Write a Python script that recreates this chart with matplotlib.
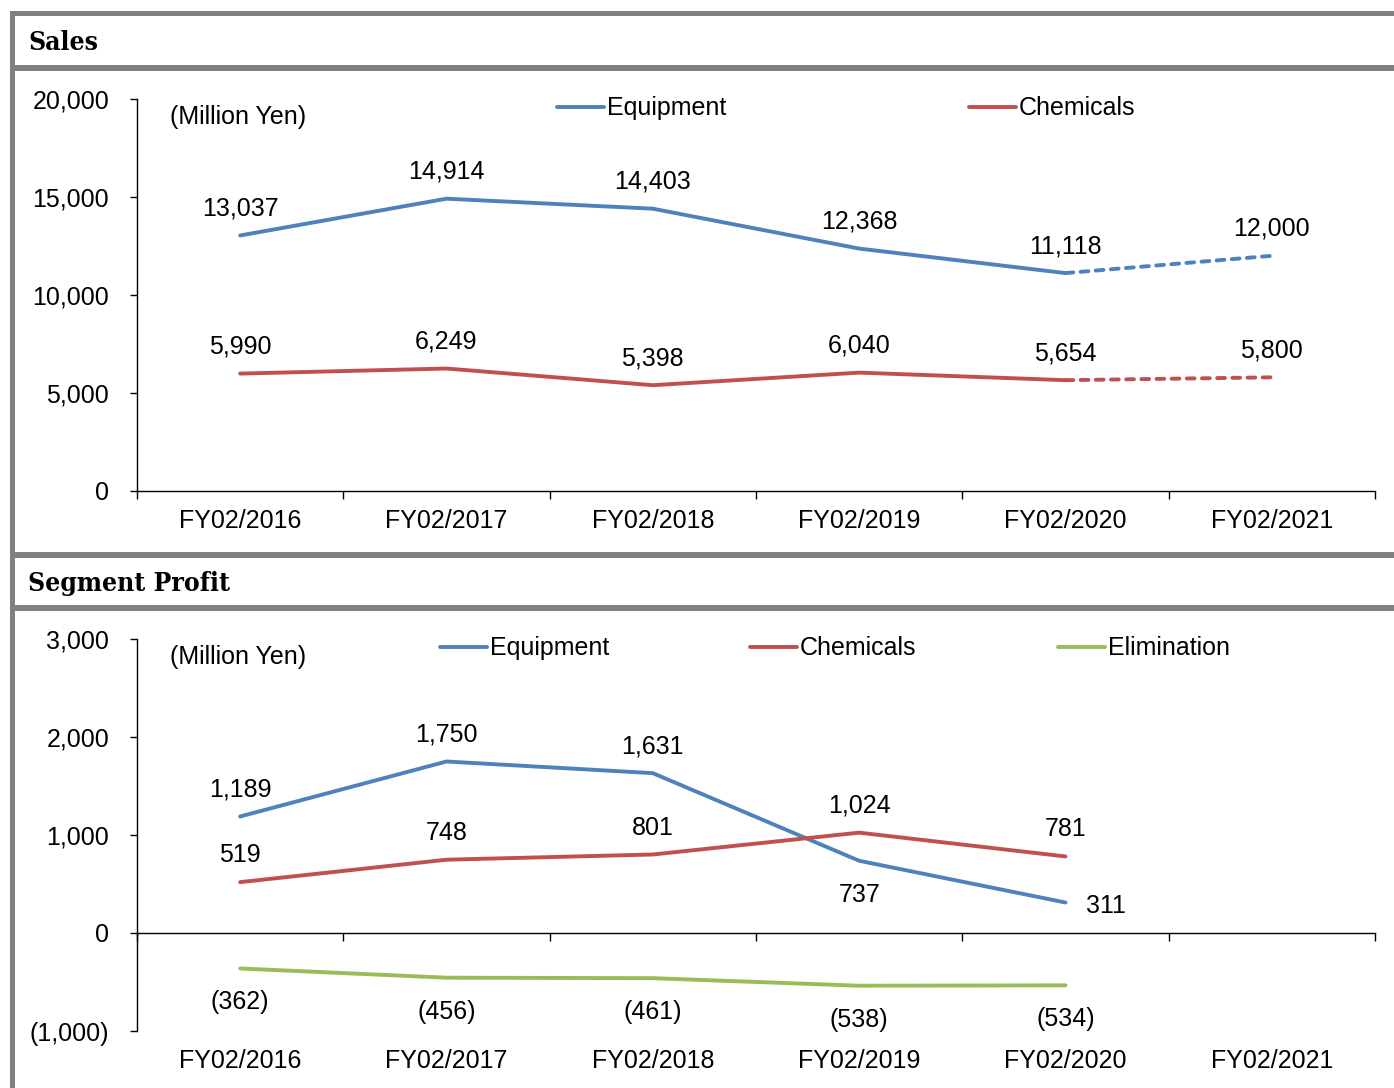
import matplotlib.pyplot as plt
from matplotlib.patches import Rectangle
import numpy as np

plt.rcParams['font.family'] = ['Liberation Sans', 'DejaVu Sans']

years = ['FY02/2016', 'FY02/2017', 'FY02/2018', 'FY02/2019', 'FY02/2020', 'FY02/2021']

sales_equipment = [13037, 14914, 14403, 12368, 11118, 12000]
sales_chemicals = [5990, 6249, 5398, 6040, 5654, 5800]
sales_ticks = [0, 5000, 10000, 15000, 20000]

profit_equipment = [1189, 1750, 1631, 737, 311]
profit_chemicals = [519, 748, 801, 1024, 781]
profit_elimination = [-362, -456, -461, -538, -534]
profit_ticks = [-1000, 0, 1000, 2000, 3000]

BLUE = '#4F81BD'
RED = '#C0504D'
GREEN = '#9BBB59'
GRAY = '#808080'
FS = 18

W, H = 1394, 1088
fig = plt.figure(figsize=(W / 100, H / 100), dpi=100)


def px_box(x0, y0, x1, y1):
    # pixel box (top-left origin) -> figure fraction rect
    return [x0 / W, 1 - y1 / H, (x1 - x0) / W, (y1 - y0) / H]


def bar(x0, y0, x1, y1):
    l, b, w, h = px_box(x0, y0, x1, y1)
    fig.add_artist(Rectangle((l, b), w, h, transform=fig.transFigure,
                             facecolor=GRAY, edgecolor='none'))


# frame
bar(10, 11, W, 16)
bar(10, 11, 15, H)
bar(15, 65, W, 71)
bar(15, 552, W, 558)
bar(15, 605, W, 611)

head = dict(family='DejaVu Serif', fontsize=19, fontweight='bold',
            fontstretch='condensed', va='center', ha='left')
fig.text(28 / W, 1 - 43 / H, 'Sales', **head)
fig.text(28 / W, 1 - 583 / H, 'Segment Profit', **head)


def fmt(v):
    return f'({abs(v):,})' if v < 0 else f'{v:,}'


def base_axes(rect, ticks, lo, hi):
    ax = fig.add_axes(rect)
    ax.set_xlim(-0.5, len(years) - 0.5)
    ax.set_ylim(lo, hi)
    for s in ['top', 'right']:
        ax.spines[s].set_visible(False)
    ax.spines['left'].set_linewidth(1.0)
    ax.spines['bottom'].set_linewidth(1.0)
    ax.set_yticks(ticks)
    ax.set_yticklabels([fmt(t) for t in ticks])
    ax.tick_params(axis='y', direction='out', length=5, width=1.0,
                   labelsize=FS, pad=15)
    ax.set_xticks(np.arange(len(years)))
    ax.set_xticklabels(years)
    ax.set_xticks(np.arange(len(years) + 1) - 0.5, minor=True)
    ax.tick_params(axis='x', which='major', length=0, labelsize=FS, pad=13)
    ax.tick_params(axis='x', which='minor', direction='out', length=6,
                   width=1.0)
    ax.text(0.027, 0.955, '(Million Yen)', transform=ax.transAxes,
            fontsize=FS, va='center', ha='left')
    return ax


def label_points(ax, xs, vals, dx=0, dy=27):
    for x, v in zip(xs, vals):
        ax.annotate(fmt(v), (x, v), xytext=(dx, dy),
                    textcoords='offset pixels', ha='center', va='center',
                    fontsize=FS)


def legend(ax, x0, ncol, spacing):
    ax.legend(loc='upper left', bbox_to_anchor=(x0, 1.007), ncol=ncol,
              frameon=False, fontsize=FS, handlelength=1.88,
              handletextpad=0.12, columnspacing=spacing, borderpad=0,
              borderaxespad=0)


# Sales
ax1 = base_axes(px_box(137, 99, 1375, 491), sales_ticks, 0, 20000)
x = np.arange(len(years))
lw = 2.8
for vals, col, name in [(sales_equipment, BLUE, 'Equipment'),
                        (sales_chemicals, RED, 'Chemicals')]:
    ax1.plot(x[:5], vals[:5], color=col, lw=lw, label=name,
             solid_capstyle='round')
    ax1.plot(x[4:], vals[4:], color=col, lw=lw, dashes=(2.0, 1.9),
             dash_capstyle='round')
    label_points(ax1, x, vals)

legend(ax1, 0.3393, 2, 9.7)

# Segment profit
ax2 = base_axes(px_box(137, 639, 1375, 1031), profit_ticks, -1000, 3000)
ax2.spines['bottom'].set_visible(False)
ax2.tick_params(axis='x', which='minor', length=0)
zero = ax2.secondary_xaxis((0 - (-1000)) / 4000)
zero.set_xticks(np.arange(len(years) + 1) - 0.5)
zero.tick_params(axis='x', direction='out', length=6, width=1.0,
                 labelbottom=False)
zero.spines['bottom'].set_linewidth(1.0)

xp = np.arange(len(profit_equipment))
ax2.plot(xp, profit_equipment, color=BLUE, lw=lw, label='Equipment',
         solid_capstyle='round')
ax2.plot(xp, profit_chemicals, color=RED, lw=lw, label='Chemicals',
         solid_capstyle='round')
ax2.plot(xp, profit_elimination, color=GREEN, lw=lw, label='Elimination',
         solid_capstyle='round')

label_points(ax2, xp[:3], profit_equipment[:3])
label_points(ax2, xp[3:4], profit_equipment[3:4], dy=-34)
label_points(ax2, xp[4:], profit_equipment[4:], dx=40, dy=-3)
label_points(ax2, xp, profit_chemicals)
label_points(ax2, xp, profit_elimination, dy=-34)

legend(ax2, 0.2447, 3, 5.64)

fig.savefig('out.png', dpi=100)
